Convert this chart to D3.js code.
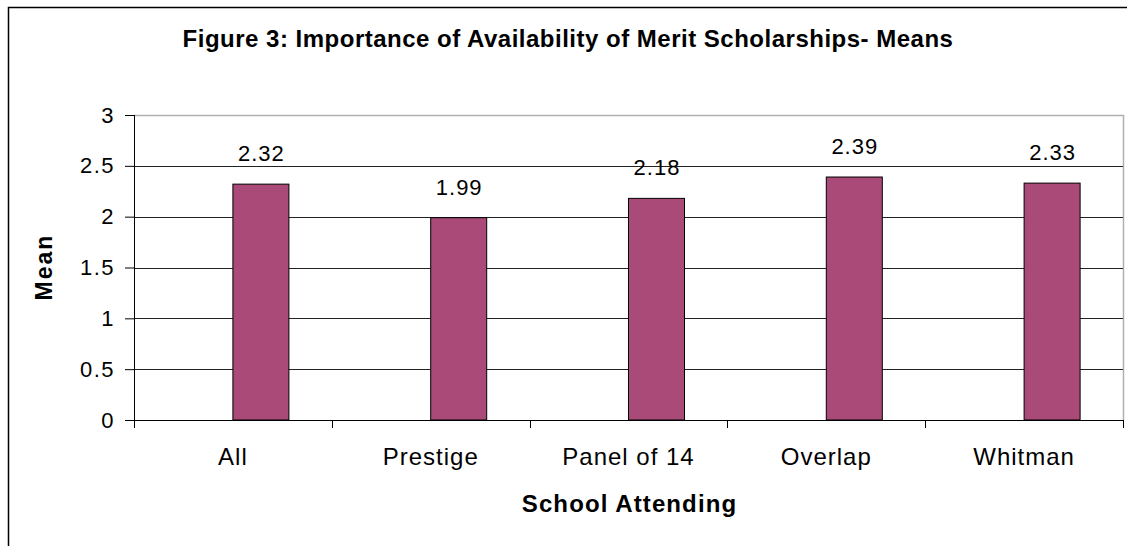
<!DOCTYPE html>
<html><head><meta charset="utf-8">
<script src="https://cdn.jsdelivr.net/npm/d3@7"></script>
<style>body{margin:0;background:#fff}svg{display:block;font-family:Arial,"Liberation Sans",sans-serif}</style>
</head><body><svg id="c" width="1127" height="546"></svg>
<script>
const categories = ["All","Prestige","Panel of 14","Overlap","Whitman"];
const means = [2.32,1.99,2.18,2.39,2.33];
const yTicks = [0,0.5,1,1.5,2,2.5,3];
const yTickLabels = ["0","0.5","1","1.5","2","2.5","3"];
const title = "Figure 3: Importance of Availability of Merit Scholarships- Means";
const xTitle = "School Attending", yTitle = "Mean";

const FF = "Arial,'Liberation Sans',sans-serif";
const svg = d3.select("#c");
const m = {l:134, r:1123, t:115, b:420};
const x = d3.scaleBand().domain(categories).range([m.l, m.r]);
const y = d3.scaleLinear().domain([0,3]).range([m.b, m.t]);
const barW = 56;

// outer frame
svg.append("path").attr("d","M8.5,546 V7.5 H1127").attr("fill","none").attr("stroke","#000").attr("stroke-width",1.5);

// plot area border (gray)
svg.append("path").attr("d",`M${m.l},${m.t+0.5} H${m.r+0.5} V${m.b}`).attr("fill","none").attr("stroke","#b0b0b0").attr("stroke-width",1.5);

// gridlines
svg.append("g").selectAll("line").data(yTicks.filter(d=>d>0 && d<3)).join("line")
  .attr("x1",m.l).attr("x2",m.r).attr("y1",d=>Math.round(y(d))+0.5).attr("y2",d=>Math.round(y(d))+0.5)
  .attr("stroke","#222").attr("stroke-width",1);

// bars
svg.append("g").selectAll("rect").data(means).join("rect")
  .attr("x",(d,i)=>x(categories[i])+x.bandwidth()/2)
  .attr("y",d=>y(d)).attr("width",barW).attr("height",d=>y(0)-y(d))
  .attr("fill","#A94A79").attr("stroke","#000").attr("stroke-width",1);

// value labels
svg.append("g").selectAll("text").data(means).join("text")
  .attr("x",(d,i)=>x(categories[i])+x.bandwidth()/2+barW/2+0.5)
  .attr("y",d=>y(d)-23).attr("text-anchor","middle").attr("font-size",22).attr("letter-spacing",1)
  .attr("font-family",FF).attr("fill","#000")
  .text(d=>d.toFixed(2));

// y axis
const ya = d3.axisLeft(y).tickValues(yTicks).tickFormat((d,i)=>yTickLabels[i]).tickSize(9).tickPadding(10);
const gy = svg.append("g").attr("transform",`translate(${m.l},0)`).call(ya);
gy.select(".domain").attr("d",`M0.5,${m.t} V${m.b+8}`).attr("stroke","#000");
gy.selectAll("text").attr("font-size",22).attr("letter-spacing",1.5).attr("font-family",FF).attr("fill","#000");

// x axis
const xa = d3.axisBottom(x).tickSize(0).tickPadding(45);
const gx = svg.append("g").attr("transform",`translate(0,${m.b})`).call(xa);
gx.select(".domain").attr("d",`M${m.l},0.5 H${m.r}`).attr("stroke","#000");
gx.selectAll("text").attr("dy",null).attr("dominant-baseline",null).attr("font-size",24).attr("letter-spacing",1)
  .attr("font-family",FF).attr("fill","#000");
// category boundary ticks
const bounds = categories.map(c=>x(c)).concat([m.r]);
gx.append("g").selectAll("line").data(bounds).join("line")
  .attr("x1",d=>Math.round(d)+0.5).attr("x2",d=>Math.round(d)+0.5).attr("y1",0).attr("y2",8).attr("stroke","#000");

// titles
svg.append("text").attr("x",568).attr("y",47).attr("text-anchor","middle").attr("font-size",24).attr("letter-spacing",0.5)
  .attr("font-weight","bold").attr("font-family",FF).text(title);
svg.append("text").attr("x",(m.l+m.r)/2+1).attr("y",512).attr("text-anchor","middle").attr("font-size",24).attr("letter-spacing",1.1)
  .attr("font-weight","bold").attr("font-family",FF).text(xTitle);
svg.append("text").attr("transform","translate(52,267) rotate(-90)").attr("text-anchor","middle").attr("font-size",23).attr("letter-spacing",2)
  .attr("font-weight","bold").attr("font-family",FF).text(yTitle);
</script></body></html>
